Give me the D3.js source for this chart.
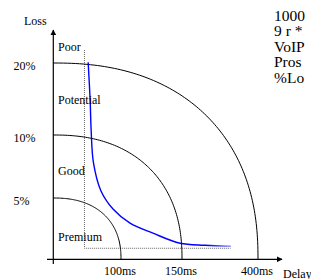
<!DOCTYPE html>
<html>
<head>
<meta charset="utf-8">
<script src="https://cdn.jsdelivr.net/npm/d3@7"></script>
<style>
  body { margin: 0; background: #fff; }
  text { font-family: "Liberation Serif", "Times New Roman", serif; fill: #000; }
</style>
</head>
<body>
<div id="chart"></div>
<script>
// zones (upper loss %, upper delay ms)
var zoneNames = ["Premium", "Good", "Potential", "Poor"];
var zoneLoss = [5, 10, 20];
var zoneDelay = [100, 150, 400];
var lossTicks = ["5%", "10%", "20%"];
var delayTicks = ["100ms", "150ms", "400ms"];
// blue curve (delay ms, loss %)
var curveDelay = [51.5, 54.4, 55.9, 59.3, 70.1, 88.2, 107.4, 126.2, 148.4, 225, 311];
var curveLoss = [20.1, 14.9, 10.7, 7.8, 5.6, 4.1, 2.95, 2.13, 1.31, 1.15, 1.07];
// dotted guide (delay ms, loss %)
var guideDelay = 46;
var guideLoss = 0.9;
var guideEnd = 310;
var noteLines = ["1000", "9 r *", "VoIP", "Pros", "%Lo"];

var w = 311, h = 279;
var svg = d3.select("#chart").append("svg").attr("width", w).attr("height", h);

var x = d3.scaleLinear().domain([0, 100, 150, 400]).range([53.3, 121, 182, 258]);
var y = d3.scaleLinear().domain([0, 5, 10, 20]).range([259.3, 198, 135, 63]);

var x0 = x(0), y0 = y(0);

// arrow marker
var defs = svg.append("defs");
defs.append("marker").attr("id", "arrow")
    .attr("viewBox", "0 0 10 10").attr("refX", 9).attr("refY", 5)
    .attr("markerWidth", 6).attr("markerHeight", 6)
    .attr("markerUnits", "userSpaceOnUse")
    .attr("orient", "auto")
    .append("path").attr("d", "M0,0L10,5L0,10z").attr("fill", "#000");

var grad = defs.append("linearGradient").attr("id", "fade")
    .attr("gradientUnits", "userSpaceOnUse")
    .attr("x1", x(148)).attr("x2", x(311)).attr("y1", 0).attr("y2", 0);
grad.append("stop").attr("offset", "0%").attr("stop-color", "#0000ff");
grad.append("stop").attr("offset", "55%").attr("stop-color", "#0000ff");
grad.append("stop").attr("offset", "100%").attr("stop-color", "#9a9aff");

// axes
svg.append("line").attr("x1", x0).attr("x2", x0).attr("y1", 264).attr("y2", 30)
    .attr("stroke", "#000").attr("stroke-width", 1.2).attr("marker-end", "url(#arrow)");
svg.append("line").attr("x1", 47).attr("x2", 282).attr("y1", y0).attr("y2", y0)
    .attr("stroke", "#000").attr("stroke-width", 1.2).attr("marker-end", "url(#arrow)");

svg.append("text").attr("x", 24).attr("y", 25).style("font-size", "12px").text("Loss");
svg.append("text").attr("x", 283).attr("y", 278).style("font-size", "12px").text("Delay");

// dotted guide
svg.append("path")
    .attr("d", d3.line()([[x(guideDelay), 50], [x(guideDelay), y(guideLoss)], [x(guideEnd), y(guideLoss)]]))
    .attr("fill", "none").attr("stroke", "#666").attr("stroke-width", 1)
    .attr("stroke-dasharray", "1,1");

// zone arcs (superellipse quarters)
var arcLine = d3.line().curve(d3.curveLinear);
zoneLoss.forEach(function (l, i) {
    var a = x(zoneDelay[i]) - x0, b = y0 - y(l), n = 2.3;
    var pts = d3.range(0, 1.0001, 0.01).map(function (t) {
        var th = t * Math.PI / 2;
        var c = Math.pow(Math.cos(th), 2 / n), s = Math.pow(Math.sin(th), 2 / n);
        return [x0 + a * s, y0 - b * c];
    });
    svg.append("path").attr("d", arcLine(pts))
        .attr("fill", "none").attr("stroke", "#000").attr("stroke-width", 1);
});

// blue curve
svg.append("path")
    .attr("d", d3.line().curve(d3.curveCatmullRom.alpha(0.5))
        .x(function (d, i) { return x(curveDelay[i]); })
        .y(function (d, i) { return y(curveLoss[i]); })(curveDelay))
    .attr("fill", "none").attr("stroke", "url(#fade)").attr("stroke-width", 1.4);

// y tick labels
lossTicks.forEach(function (t, i) {
    svg.append("text").attr("x", 13.5).attr("y", y(zoneLoss[i]) + 7)
        .style("font-size", "12px").text(t);
});
// x tick labels
delayTicks.forEach(function (t, i) {
    svg.append("text").attr("x", x(zoneDelay[i]) - 1).attr("y", 275)
        .attr("text-anchor", "middle").style("font-size", "12px").text(t);
});

// zone names
var nameY = [237, 171, 100, 47];
zoneNames.forEach(function (t, i) {
    svg.append("text").attr("x", 58).attr("y", nameY[i] + 4)
        .style("font-size", "12px").text(t);
});

// side note
noteLines.forEach(function (t, i) {
    svg.append("text").attr("x", 274).attr("y", 20.5 + i * 15.5)
        .style("font-size", "15.5px").text(t);
});
</script>
</body>
</html>
